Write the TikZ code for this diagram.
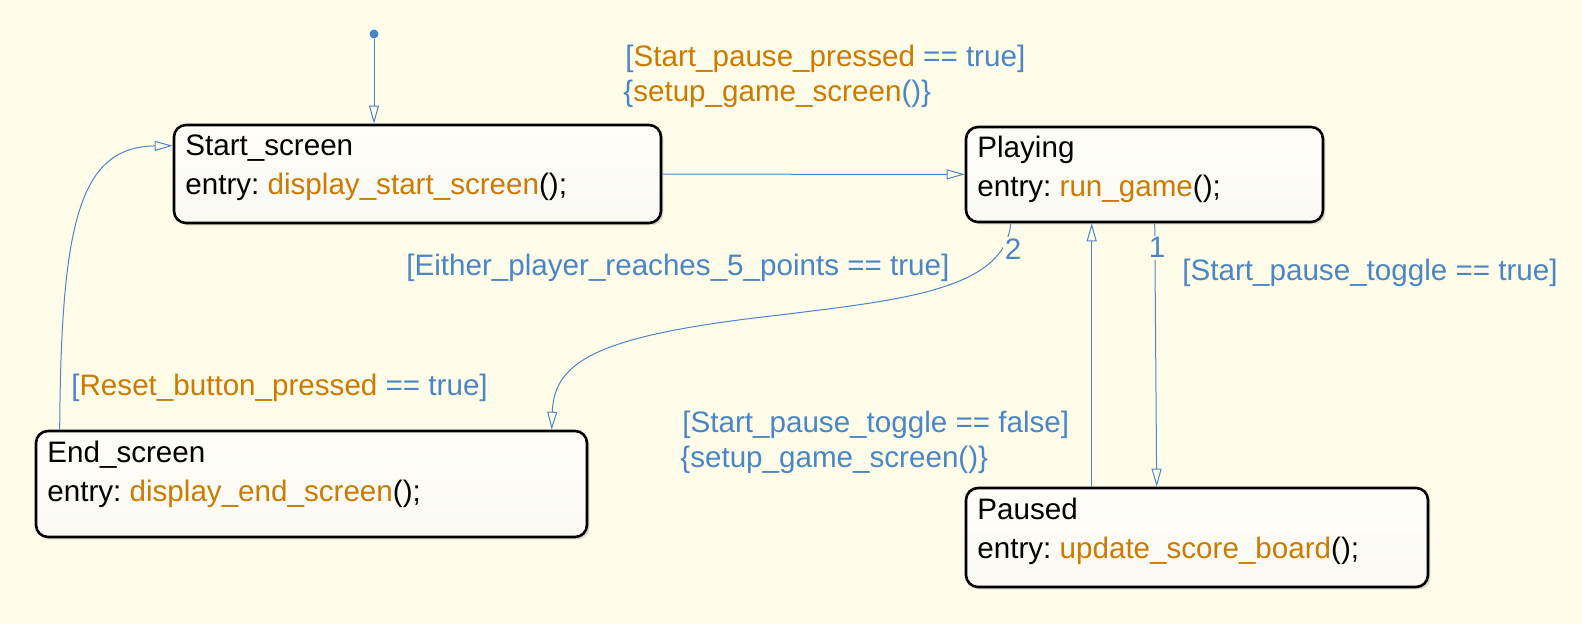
\documentclass[tikz,border=0pt]{standalone}
\usepackage{fontspec}
\setmainfont{Liberation Sans}
\usetikzlibrary{arrows.meta,fit,shadows,calc}
\definecolor{bg}{RGB}{255,252,234}
\definecolor{sfblue}{RGB}{74,134,198}
\definecolor{sforange}{RGB}{204,122,0}
\newcommand{\orn}[1]{\textcolor{sforange}{#1}}
\frenchspacing
\begin{document}
\begin{tikzpicture}[x=0.5pt,y=-0.5pt,
  statebox/.style={draw=black, line width=1.3pt, rounded corners=6pt, inner sep=0pt,
    top color=white!70!bg, bottom color=bg!85!gray!30!white,
    drop shadow={shadow xshift=1.2pt, shadow yshift=-1.2pt, opacity=0.35, fill=black!40}},
  txt/.style={anchor=base west, inner sep=0pt, font=\fontsize{14.8}{18}\selectfont},
  lbl/.style={anchor=base west, inner sep=0pt, text=sfblue, font=\fontsize{14.8}{18}\selectfont},
  num/.style={anchor=base, inner sep=1pt, fill=bg, text=sfblue, font=\fontsize{14.8}{18}\selectfont},
  tr/.style={draw=sfblue, line width=0.5pt, -{Triangle[length=9pt,width=5pt,fill=bg]}},
  initdot/.style={circle, fill=sfblue, minimum size=4.5pt, inner sep=0pt}]
\fill[bg] (0,0) rectangle (1582,624);
\useasboundingbox (0,0) rectangle (1582,624);

% states
\node[statebox, fit={(174,125)(661,223)}] (start) {};
\node[txt] (startname) at (185,156) {Start\_screen};
\node[txt] (startentry) at (185,195) {entry: \orn{display\_start\_screen}();};

\node[statebox, fit={(966,127)(1323,222)}] (playing) {};
\node[txt] (playname) at (977,158) {Playing};
\node[txt] (playentry) at (977,197) {entry: \orn{run\_game}();};

\node[statebox, fit={(36,431)(587,537)}] (endscreen) {};
\node[txt] (endname) at (47,462) {End\_screen};
\node[txt] (endentry) at (47,501) {entry: \orn{display\_end\_screen}();};

\node[statebox, fit={(966,488)(1428,587)}] (paused) {};
\node[txt] (pausename) at (977,519) {Paused};
\node[txt] (pauseentry) at (977,558) {entry: \orn{update\_score\_board}();};

% initial
\node[initdot] (init) at (374,34) {};
\draw[tr] (init) -- (init |- start.north);

% start -> playing
\draw[tr] (start) -- (playing);
\node[lbl] (l1a) at (625,67) {[\orn{Start\_pause\_pressed} == true]};
\node[lbl] (l1b) at (623,102) {\{\orn{setup\_game\_screen}()\}};

% end -> start
\coordinate (endout) at ($(endscreen.north west)+(25,0)$);
\coordinate (startin) at ($(start.north west)+(0,22)$);
\draw[tr] (endout) .. controls (61,220) and (80,147) .. (startin);
\node[lbl] (l2) at (71,395) {[\orn{Reset\_button\_pressed} == true]};

% playing -> end
\coordinate (pout2) at ($(playing.south west)+(46,0)$);
\coordinate (endin) at ($(endscreen.north west)+(517,0)$);
\draw[tr] (pout2) .. controls (1005,290) and (900,300) .. (780,315)
  .. controls (600,335) and (554,360) .. (endin);
\node[num] (n2) at (1013,260) {2};
\node[lbl] (l3) at (406,276) {[Either\_player\_reaches\_5\_points == true]};

% playing -> paused
\coordinate (pout1) at ($(playing.south west)+(190,0)$);
\coordinate (pin1) at ($(paused.north west)+(192,0)$);
\draw[tr] (pout1) -- (pin1);
\node[num] (n1) at (1157,258) {1};
\node[lbl] (l4) at (1182,281) {[Start\_pause\_toggle == true]};

% paused -> playing
\coordinate (pout3) at ($(paused.north west)+(127,0)$);
\draw[tr] (pout3) -- (pout3 |- playing.south);
\node[lbl] (l5a) at (682,432) {[Start\_pause\_toggle == false]};
\node[lbl] (l5b) at (680,467) {\{setup\_game\_screen()\}};
\end{tikzpicture}
\end{document}
